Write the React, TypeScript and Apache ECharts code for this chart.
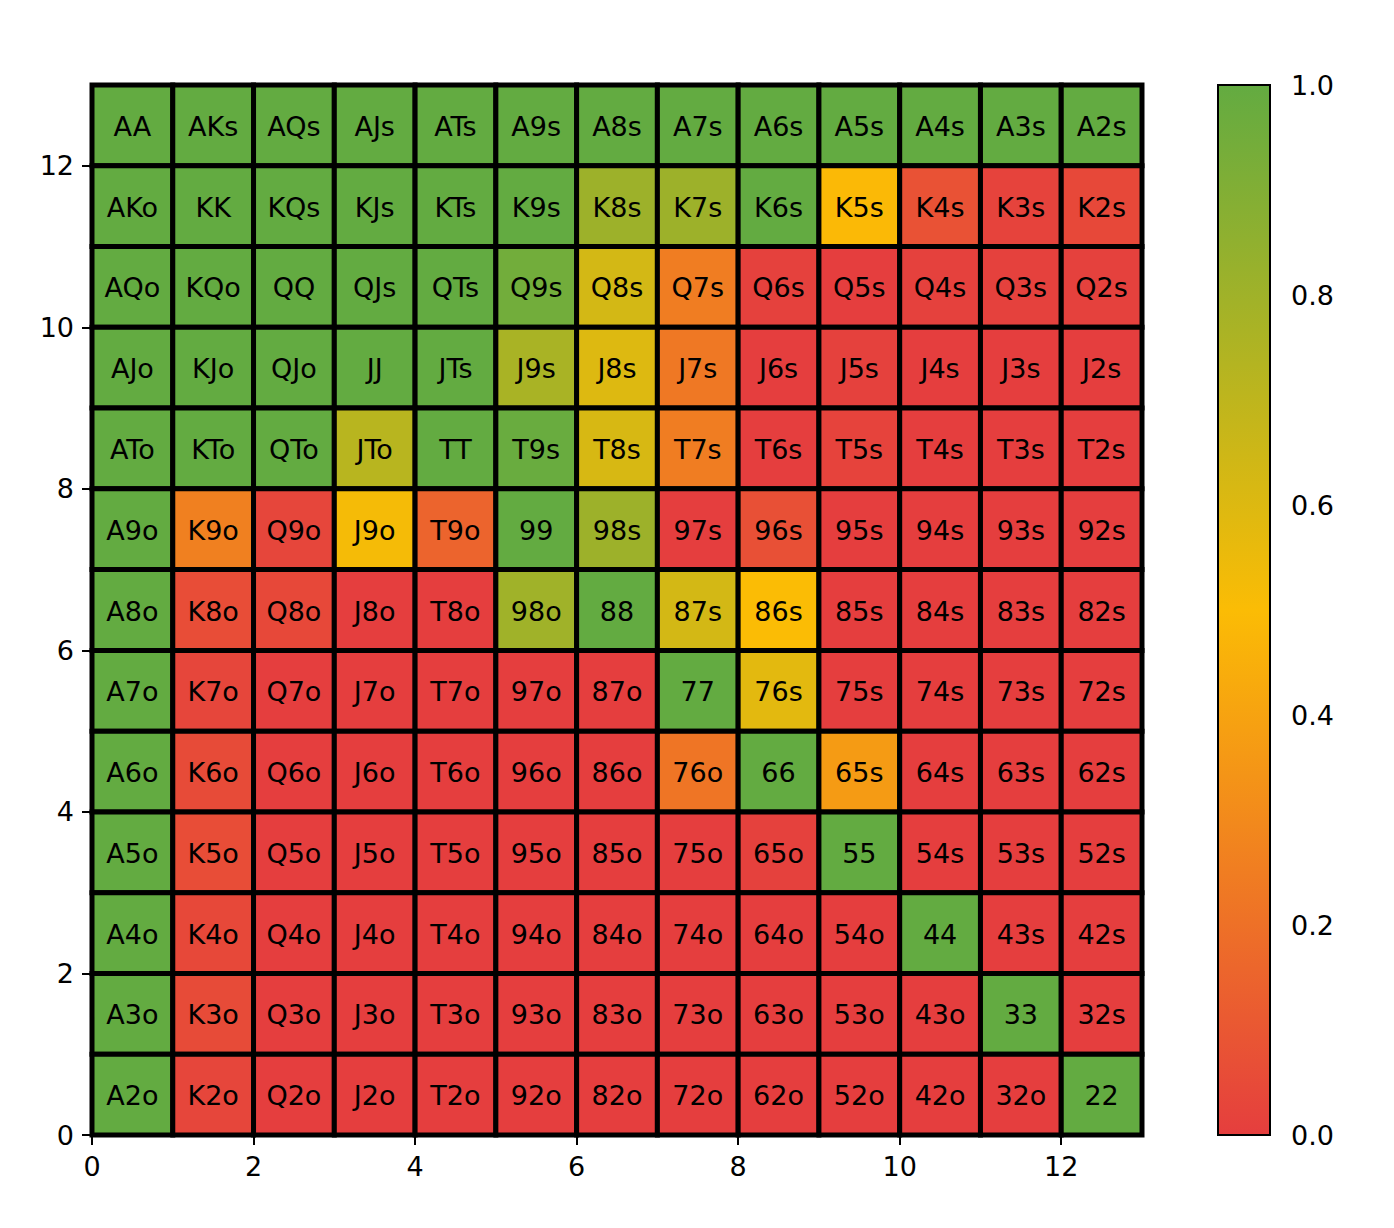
import React, { useEffect, useRef } from "react";
import * as echarts from "echarts";

// Hand ranks (rows top→bottom, columns left→right)
const ranks = ["A", "K", "Q", "J", "T", "9", "8", "7", "6", "5", "4", "3", "2"];

// Frequency per cell, one array per row (row rank A … 2)
const rowA = [1, 1, 1, 1, 1, 1, 1, 1, 1, 1, 1, 1, 1];
const rowK = [1, 1, 1, 1, 1, 1, 0.81, 0.81, 1, 0.49, 0.08, 0.02, 0.04];
const rowQ = [1, 1, 1, 1, 1, 0.95, 0.63, 0.25, 0.01, 0, 0.01, 0.01, 0.01];
const rowJ = [1, 1, 1, 1, 1, 0.77, 0.6, 0.23, 0, 0.01, 0, 0, 0];
const rowT = [1, 1, 1, 0.72, 1, 0.98, 0.62, 0.25, 0, 0.02, 0, 0, 0];
const row9 = [1, 0.26, 0.03, 0.52, 0.15, 1, 0.81, 0, 0.07, 0, 0, 0, 0];
const row8 = [1, 0.06, 0.04, 0, 0, 0.8, 1, 0.63, 0.5, 0, 0, 0, 0];
const row7 = [1, 0.03, 0, 0, 0, 0, 0, 1, 0.58, 0, 0, 0, 0];
const row6 = [1, 0.05, 0, 0, 0, 0, 0, 0.22, 1, 0.37, 0, 0, 0];
const row5 = [1, 0.06, 0, 0, 0, 0, 0, 0, 0.01, 1, 0, 0, 0];
const row4 = [1, 0.04, 0, 0, 0, 0, 0, 0, 0, 0, 1, 0, 0];
const row3 = [1, 0.05, 0, 0, 0, 0, 0, 0, 0, 0, 0, 1, 0];
const row2 = [1, 0.03, 0, 0, 0, 0, 0, 0, 0, 0, 0, 0, 1];
const rows = [rowA, rowK, rowQ, rowJ, rowT, row9, row8, row7, row6, row5, row4, row3, row2];

const axisTicks = [0, 2, 4, 6, 8, 10, 12];
const cmapColors = ["#e53e3e", "#fbbc05", "#63ab41"];

function handLabel(i: number, j: number): string {
  if (i === j) return ranks[i] + ranks[j];
  if (j > i) return ranks[i] + ranks[j] + "s";
  return ranks[j] + ranks[i] + "o";
}

const FONT = "DejaVu Sans";
const FS = 27;

export default function App() {
  const ref = useRef<HTMLDivElement>(null);
  useEffect(() => {
    if (!ref.current) return;
    const chart = echarts.init(ref.current, null, { renderer: "svg" });
    const n = ranks.length;
    const data: any[] = [];
    const labels: string[] = [];
    for (let i = 0; i < n; i++) {
      for (let j = 0; j < n; j++) {
        data.push([j, n - 1 - i, rows[i][j]]);
        labels.push(handLabel(i, j));
      }
    }
    const axisCommon = {
      axisLine: { show: true, lineStyle: { color: "#000", width: 2 } },
      axisTick: { show: true, length: 10, lineStyle: { color: "#000", width: 2 }, customValues: axisTicks },
      axisLabel: { color: "#000", fontSize: FS, fontFamily: FONT, margin: 18, customValues: axisTicks },
      splitLine: { show: false },
    };
    chart.setOption({
      animation: false,
      backgroundColor: "#fff",
      grid: [
        { left: 92, top: 85, width: 1050, height: 1050 },
        { left: 1218, top: 85, width: 52, height: 1050 },
      ],
      xAxis: [
        { type: "value", gridIndex: 0, min: 0, max: 13, position: "bottom", ...axisCommon },
        { type: "value", gridIndex: 1, min: 0, max: 1, show: false },
      ],
      yAxis: [
        { type: "value", gridIndex: 0, min: 0, max: 13, position: "left", ...axisCommon },
        {
          type: "value",
          gridIndex: 1,
          min: 0,
          max: 1,
          interval: 0.2,
          position: "right",
          axisLine: { show: false },
          axisTick: { show: true, length: 10, lineStyle: { color: "#000", width: 2 } },
          axisLabel: {
            color: "#000",
            fontSize: FS,
            fontFamily: FONT,
            margin: 21,
            formatter: (v: number) => v.toFixed(1),
          },
          splitLine: { show: false },
        },
      ],
      visualMap: {
        type: "continuous",
        show: false,
        min: 0,
        max: 1,
        dimension: 2,
        seriesIndex: 0,
        inRange: { color: cmapColors },
      },
      series: [
        {
          type: "custom",
          xAxisIndex: 0,
          yAxisIndex: 0,
          data,
          renderItem: (params: any, api: any) => {
            const x = api.value(0);
            const y = api.value(1);
            const p0 = api.coord([x, y + 1]);
            const p1 = api.coord([x + 1, y]);
            return {
              type: "group",
              children: [
                {
                  type: "rect",
                  shape: { x: p0[0], y: p0[1], width: p1[0] - p0[0], height: p1[1] - p0[1] },
                  style: { fill: api.visual("color"), stroke: "#000", lineWidth: 5 },
                },
                {
                  type: "text",
                  z2: 10,
                  style: {
                    text: labels[params.dataIndex],
                    x: (p0[0] + p1[0]) / 2,
                    y: (p0[1] + p1[1]) / 2 + 1,
                    align: "center",
                    verticalAlign: "middle",
                    fontSize: FS,
                    fontFamily: FONT,
                    fill: "#000",
                  },
                },
              ],
            };
          },
        },
        {
          type: "custom",
          xAxisIndex: 1,
          yAxisIndex: 1,
          data: [[0, 0]],
          renderItem: (params: any, api: any) => {
            const p0 = api.coord([0, 1]);
            const p1 = api.coord([1, 0]);
            return {
              type: "rect",
              shape: { x: p0[0], y: p0[1], width: p1[0] - p0[0], height: p1[1] - p0[1] },
              style: {
                fill: new echarts.graphic.LinearGradient(0, 1, 0, 0, [
                  { offset: 0, color: cmapColors[0] },
                  { offset: 0.5, color: cmapColors[1] },
                  { offset: 1, color: cmapColors[2] },
                ]),
                stroke: "#000",
                lineWidth: 2,
              },
            };
          },
        },
      ],
    });
    return () => chart.dispose();
  }, []);
  return (
    <div
      ref={ref}
      style={{ position: "absolute", left: 0, top: 0, width: 1394, height: 1228 }}
    />
  );
}
